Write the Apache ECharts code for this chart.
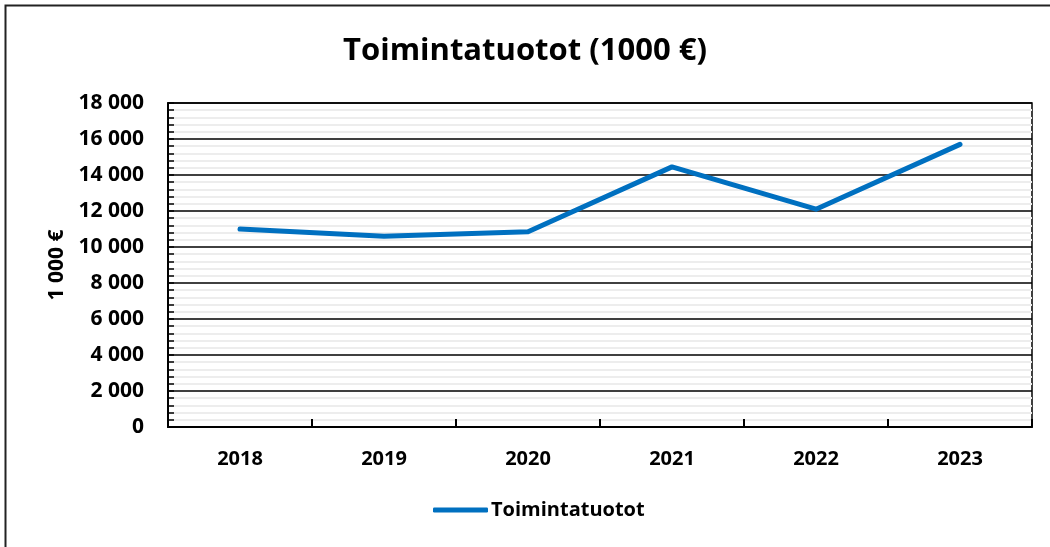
<!DOCTYPE html>
<html>
<head>
<meta charset="utf-8">
<script src="https://cdn.jsdelivr.net/npm/echarts@6/dist/echarts.min.js"></script>
<style>
  html, body { margin: 0; padding: 0; background: #fff; }
  #chart { width: 1050px; height: 547px; }
</style>
</head>
<body>
<div id="chart"></div>
<script>
const years = ['2018', '2019', '2020', '2021', '2022', '2023']
const tuotot = [11000, 10600, 10850, 14450, 12100, 15700]
const yTicks = { min: 0, max: 18000, step: 2000 }

const font = '"Open Sans", "Liberation Sans", sans-serif'
const chart = echarts.init(document.getElementById('chart'))

// tuhaterotin välilyönnillä, kuten alkuperäisessä
const fmt = v => String(v).replace(/\B(?=(\d{3})+(?!\d))/g, ' ')

chart.setOption({
  animation: false,
  textStyle: { fontFamily: font },
  title: {
    text: 'Toimintatuotot (1000 €)',
    left: 'center',
    top: 31,
    itemGap: 0,
    textStyle: { fontSize: 31, fontWeight: 'bold', color: '#000', fontFamily: font }
  },
  graphic: [{
    type: 'rect',
    shape: { x: 5.5, y: 5.5, width: 1100, height: 600 },
    style: { fill: 'none', stroke: '#222', lineWidth: 2 },
    silent: true
  }],
  grid: {
    left: 168, right: 18, top: 103, bottom: 120,
    show: true, borderColor: '#000', borderWidth: 1.5
  },
  legend: {
    bottom: 22,
    left: 428,
    icon: 'roundRect',
    itemWidth: 55,
    itemHeight: 5,
    itemGap: 4,
    textStyle: { fontSize: 20, fontWeight: 'bold', color: '#000', fontFamily: font, padding: [0, 0, 0, -2] },
    data: ['Toimintatuotot']
  },
  xAxis: {
    type: 'category',
    data: years,
    boundaryGap: true,
    axisLine: { lineStyle: { color: '#000', width: 2 } },
    axisTick: { show: true, inside: true, length: 8, alignWithLabel: false, lineStyle: { color: '#000', width: 2 } },
    axisLabel: { fontSize: 20, fontWeight: 'bold', color: '#000', margin: 22, fontFamily: font },
    splitLine: { show: false }
  },
  yAxis: {
    type: 'value',
    min: yTicks.min,
    max: yTicks.max,
    interval: yTicks.step,
    name: '1 000 €',
    nameLocation: 'middle',
    nameGap: 97,
    nameTextStyle: { fontSize: 21, fontWeight: 'bold', color: '#000', fontFamily: font },
    axisLine: { show: true, lineStyle: { color: '#000', width: 2 } },
    axisTick: { show: true, inside: true, length: 6, lineStyle: { color: '#000', width: 1.5 } },
    minorTick: { show: true, splitNumber: 5, length: 6, lineStyle: { color: '#000', width: 1.5 } },
    minorSplitLine: { show: true, lineStyle: { color: '#ededed', width: 2 } },
    splitLine: { show: true, lineStyle: { color: '#000', width: 1.5 } },
    axisLabel: { fontSize: 21, fontWeight: 'bold', color: '#000', margin: 24, formatter: fmt, fontFamily: font }
  },
  series: [{
    name: 'Toimintatuotot',
    type: 'line',
    data: tuotot,
    symbol: 'none',
    lineStyle: { color: '#0070C0', width: 5, cap: 'round', join: 'round' },
    itemStyle: { color: '#0070C0' }
  }]
})
</script>
</body>
</html>
